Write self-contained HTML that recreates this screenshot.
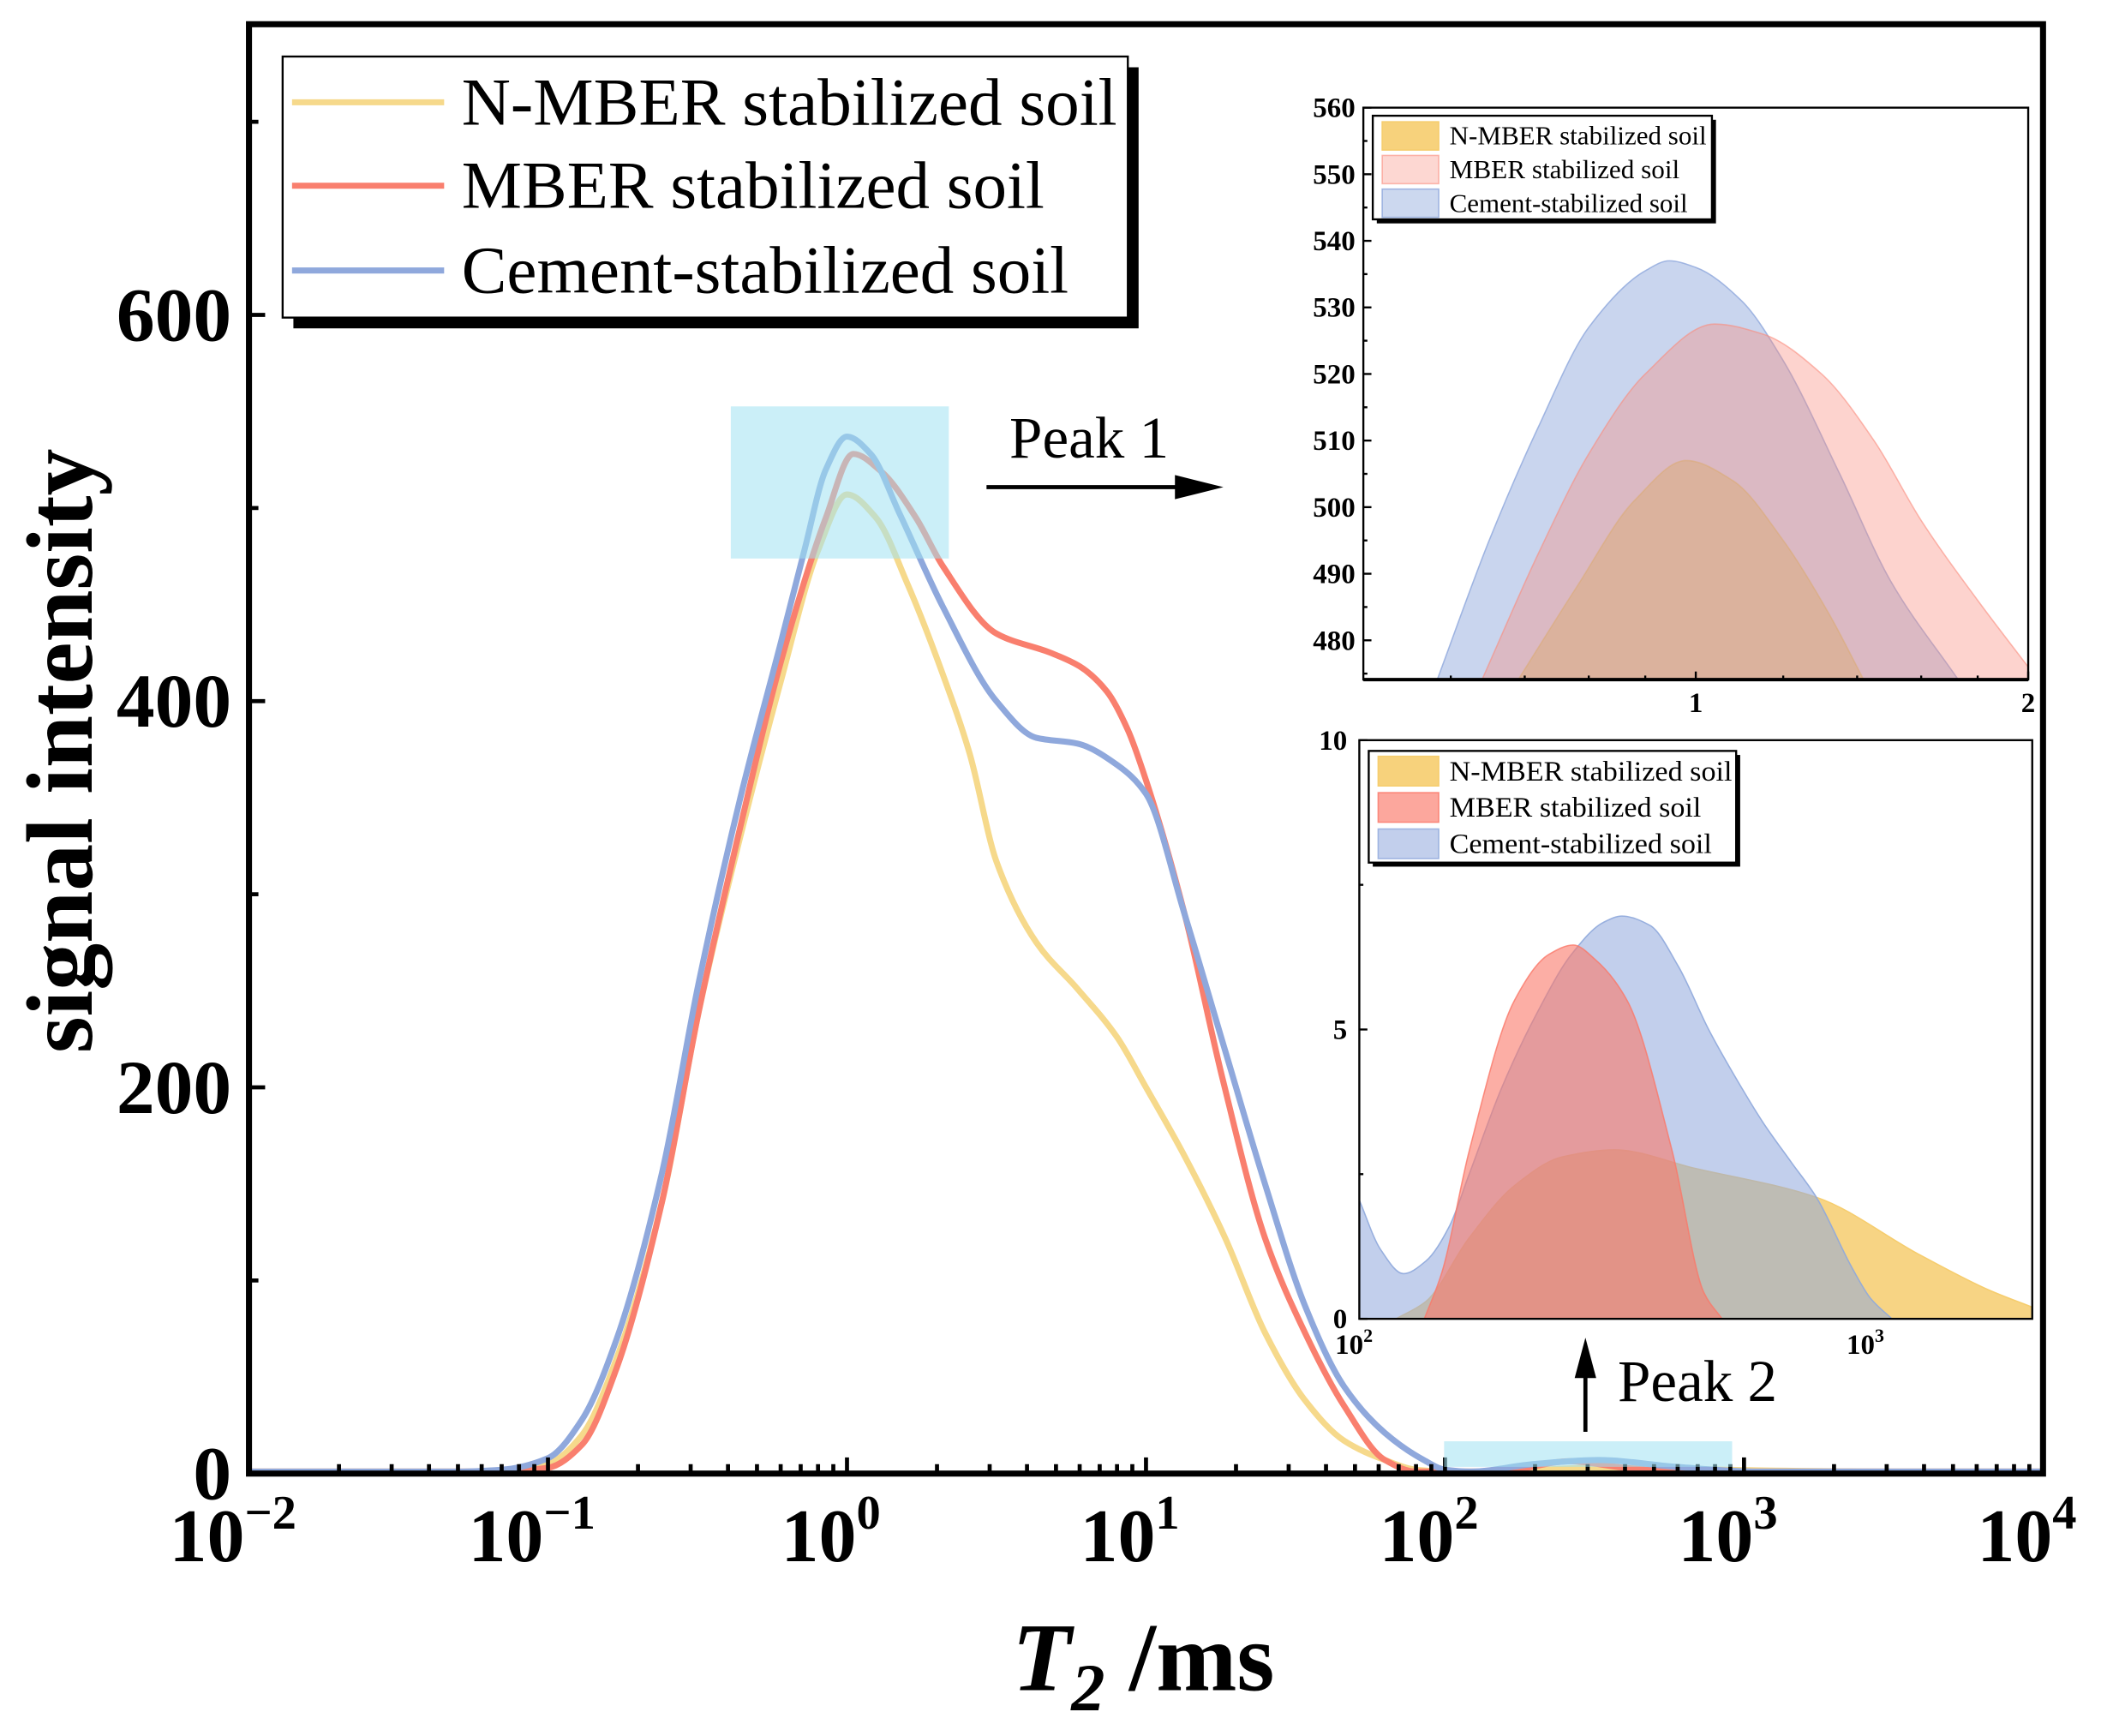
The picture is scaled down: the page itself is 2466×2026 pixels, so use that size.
<!DOCTYPE html>
<html>
<head>
<meta charset="utf-8">
<style>
html,body{margin:0;padding:0;background:#fff;}
svg{display:block;}
text{font-family:"Liberation Serif","DejaVu Serif",serif;}
</style>
</head>
<body>
<svg id="chart" width="2466" height="2026" viewBox="0 0 1570 1290" preserveAspectRatio="none" xmlns="http://www.w3.org/2000/svg">
<defs>
<clipPath id="mainClip"><rect x="185" y="18" width="1333" height="1077"/></clipPath>
<clipPath id="in1Clip"><rect x="1013" y="80" width="494" height="425"/></clipPath>
<clipPath id="in2Clip"><rect x="1010" y="550" width="500" height="430"/></clipPath>
</defs>
<rect x="0" y="0" width="1570" height="1290" fill="#fff"/>
<g id="mainSeries" clip-path="url(#mainClip)"></g>
<g id="mainAxes"></g>
<g id="overlays"></g>
<g id="inset1"></g>
<g id="inset2"></g>
<g id="legends"></g>
</svg>
<script>
// ===== Main chart data =====
const yellowT2 = [0.01,0.05,0.07,0.1,0.13,0.17,0.24,0.32,0.44,0.6,0.8,1.0,1.25,1.6,2.09,2.57,3.16,4.3,5.9,8.0,10,13.5,18.4,25,34,46,63,80,100,150,300,600,1000,3000,10000];
const yellowVals = [0,0,1,5,20,60,140,240,330,410,478,507,495,460,414,373,317,275,251,226,200,164,122,73,38,17,7,2,0,0.5,2.9,2.5,1.8,0.4,0];
const redT2 = [0.01,0.07,0.1,0.13,0.17,0.24,0.32,0.44,0.6,0.85,1.05,1.3,1.7,2.09,3.16,4.8,6.0,7.4,8.7,10,13.5,18,25,34,46,63,80,100,150,262,400,600,10000];
const redVals = [0,0,3,15,55,140,240,335,420,495,528,519,495,470,435,425,418,405,385,359,289,205,122,73,35,7,1,0,0.5,6.4,3,0,0];
const blueT2 = [0.01,0.05,0.07,0.1,0.13,0.17,0.24,0.32,0.44,0.6,0.72,0.85,1.0,1.2,1.5,2.09,3.16,4.3,5.9,8,10,13.5,18.4,25,34,46,63,85,100,122,200,326,600,1100,10000];
const blueVals = [0,0,2,8,28,70,155,255,350,430,478,520,537,528,497,449,400,381,378,367,352,289,219,150,87,45,21,7,2,0.8,5,7,3.4,0,0];
const xTickExp = [-2,-1,0,1,2,3,4];
const yTicks = [0,200,400,600];
const yMinorTicks = [100,300,500,700];
const seriesNames = ["N-MBER stabilized soil","MBER stabilized soil","Cement-stabilized soil"];
// ===== Inset 1 (Peak 1) data =====
const in1YellowT2 = [0.69,0.78,0.88,0.98,1.08,1.2,1.32,1.42];
const in1YellowVals = [474,488,501,507,504,495,484,474];
const in1RedT2 = [0.64,0.72,0.8,0.9,1.04,1.15,1.3,1.45,1.6,1.8,2.0];
const in1RedVals = [474,493,508,520,527.5,526,520,510,498,486,476];
const in1BlueT2 = [0.583,0.65,0.72,0.8,0.9,0.946,1.0,1.1,1.2,1.35,1.5,1.73];
const in1BlueVals = [474,495,512,527,535.5,537,536,531,522,505,489,474];
const in1YTicks = [480,490,500,510,520,530,540,550,560];
const in1XTicks = [1,2];
// ===== Inset 2 (Peak 2) data =====
const in2YellowT2 = [118,135,164,201,250,315,453,783,1250,1700,2070];
const in2YellowVals = [0,0.3,1.4,2.3,2.8,2.92,2.6,2.1,1.1,0.5,0.2];
const in2RedT2 = [134,145,164,201,235,262,290,334,409,472,512];
const in2RedVals = [0,0.8,2.9,5.5,6.3,6.46,6.2,5.5,2.9,0.45,0];
const in2BlueT2 = [100,110,122,135,150,164,190,223,260,300,326,370,420,482,550,615,700,783,922,1000,1100];
const in2BlueVals = [2.05,1.2,0.78,1.0,1.6,2.5,4.0,5.3,6.3,6.85,6.96,6.8,6.1,5.0,4.1,3.4,2.7,2.1,0.86,0.35,0];
const in2YTicks = [0,5,10];
const in2XTickExp = [2,3];

const NS="http://www.w3.org/2000/svg";
function mk(tag, attrs, parent){const e=document.createElementNS(NS,tag);for(const k in attrs)e.setAttribute(k,attrs[k]);if(parent)parent.appendChild(e);return e;}
function smoothPath(pts){
  const n=pts.length;
  const dx=[],dy=[],m=[];
  for(let i=0;i<n-1;i++){dx.push(pts[i+1][0]-pts[i][0]);dy.push(pts[i+1][1]-pts[i][1]);m.push(dy[i]/dx[i]);}
  const t=new Array(n);
  t[0]=m[0];t[n-1]=m[n-2];
  for(let i=1;i<n-1;i++){
    if(m[i-1]*m[i]<=0)t[i]=0;
    else{const w1=2*dx[i]+dx[i-1],w2=dx[i]+2*dx[i-1];t[i]=(w1+w2)/(w1/m[i-1]+w2/m[i]);}
  }
  let d="M"+pts[0][0].toFixed(2)+","+pts[0][1].toFixed(2);
  for(let i=0;i<n-1;i++){
    const h=dx[i]/3;
    d+=" C"+(pts[i][0]+h).toFixed(2)+","+(pts[i][1]+t[i]*h).toFixed(2)+" "+(pts[i+1][0]-h).toFixed(2)+","+(pts[i+1][1]-t[i+1]*h).toFixed(2)+" "+pts[i+1][0].toFixed(2)+","+pts[i+1][1].toFixed(2);
  }
  return d;
}
const mX0=185,mX1=1518,mY0=1095,mY1=18;
const mx=t=>mX0+(Math.log10(t)+2)/6*(mX1-mX0);
const my=v=>mY0-v*(287/200);
const COL_Y="#F6D98B",COL_R="#F97F6E",COL_B="#8FA8DC";

const gS=document.getElementById('mainSeries');
[[yellowT2,yellowVals,COL_Y,'n-mber-line'],[redT2,redVals,COL_R,'mber-line'],[blueT2,blueVals,COL_B,'cement-line']].forEach(s=>{
  const pts=s[0].map((t,i)=>[mx(t),Math.min(mY0-1.5,my(s[1][i]))]);
  const p=mk('path',{d:smoothPath(pts),fill:'none',stroke:s[2],'stroke-width':4.5,'stroke-linejoin':'round'},gS);
  
  
});

const gA=document.getElementById('mainAxes');
const frame=mk('rect',{x:mX0,y:mY1,width:mX1-mX0,height:mY0-mY1,fill:'none',stroke:'#000','stroke-width':4.5},gA);


xTickExp.forEach(e=>{
  const x=mx(Math.pow(10,e));
  mk('line',{x1:x,x2:x,y1:mY0,y2:mY0-12,stroke:'#000','stroke-width':3},gA);
  if(e<4){for(let k=2;k<=9;k++){const xm=mx(k*Math.pow(10,e));mk('line',{x1:xm,x2:xm,y1:mY0,y2:mY0-7,stroke:'#000','stroke-width':3},gA);}}
  const t=mk('text',{x:x-12,y:1160,'text-anchor':'middle','font-size':56,'font-weight':'bold'},gA);
  
  
  t.textContent='10';
  const sp=mk('tspan',{dy:-24,'font-size':36},t); sp.textContent=(e<0?'\u2212':'')+Math.abs(e);
});
yTicks.forEach(v=>{
  const y=my(v);
  mk('line',{x1:mX0,x2:mX0+12,y1:y,y2:y,stroke:'#000','stroke-width':3},gA);
  const t=mk('text',{x:172,y:y+19,'text-anchor':'end','font-size':57,'font-weight':'bold'},gA);
  
  
  t.textContent=v;
});
yMinorTicks.forEach(v=>{const y=my(v);mk('line',{x1:mX0,x2:mX0+7,y1:y,y2:y,stroke:'#000','stroke-width':3},gA);});
const yt=mk('text',{x:0,y:0,transform:'translate(68,558) rotate(-90)','text-anchor':'middle','font-size':70,'font-weight':'bold'},gA);


yt.textContent='signal intensity';
const xt=mk('text',{x:752,y:1256,'font-size':72,'font-weight':'bold'},gA);


const t1=mk('tspan',{'font-style':'italic'},xt);t1.textContent='T';
const t2=mk('tspan',{'font-style':'italic','font-size':50,dy:15},xt);t2.textContent='2';
const t3=mk('tspan',{dy:-15},xt);t3.textContent=' /ms';

const gO=document.getElementById('overlays');
const h1=mk('rect',{x:543,y:302,width:162,height:113,fill:'rgba(160,225,242,0.55)'},gO);


const h2=mk('rect',{x:1073,y:1071,width:214,height:19,fill:'rgba(160,225,242,0.55)'},gO);


const pk1=mk('text',{x:750,y:340,'font-size':44},gO);pk1.textContent='Peak 1';


mk('line',{x1:733,x2:880,y1:362,y2:362,stroke:'#000','stroke-width':3},gO);
mk('polygon',{points:'873,353 909,362 873,371',fill:'#000'},gO);
const pk2=mk('text',{x:1202,y:1041,'font-size':44},gO);pk2.textContent='Peak 2';


mk('line',{x1:1178,x2:1178,y1:1064,y2:1020,stroke:'#000','stroke-width':3},gO);
mk('polygon',{points:'1170,1024 1178,994 1186,1024',fill:'#000'},gO);

const g1=document.getElementById('inset1');
const i1x0=1013,i1x1=1507,i1y0=505,i1y1=80;
const i1x=t=>i1x0+(Math.log10(t)-Math.log10(0.5))/(Math.log10(2)-Math.log10(0.5))*(i1x1-i1x0);
const i1y=v=>i1y0-(v-474.1)*((i1y0-i1y1)/(560-474.1));
mk('rect',{x:i1x0,y:i1y1,width:i1x1-i1x0,height:i1y0-i1y1,fill:'#fff'},g1);
const g1c=mk('g',{'clip-path':'url(#in1Clip)'},g1);
[[in1BlueT2,in1BlueVals,'rgba(143,168,220,0.48)','rgba(143,168,220,0.8)','inset1-cement-area'],[in1RedT2,in1RedVals,'rgba(250,140,125,0.38)','rgba(250,140,125,0.6)','inset1-mber-area'],[in1YellowT2,in1YellowVals,'rgba(220,170,110,0.45)','rgba(220,170,110,0.5)','inset1-n-mber-area']].forEach(s=>{
  const pts=s[0].map((t,i)=>[i1x(t),i1y(s[1][i])]);
  const d=smoothPath(pts)+" L"+pts[pts.length-1][0]+","+(i1y0+5)+" L"+pts[0][0]+","+(i1y0+5)+" Z";
  const p=mk('path',{d:d,fill:s[2],stroke:s[3],'stroke-width':1},g1c);
  
  
});
mk('rect',{x:i1x0,y:i1y1,width:i1x1-i1x0,height:i1y0-i1y1,fill:'none',stroke:'#000','stroke-width':1.5},g1);
mk('line',{x1:i1x0,x2:i1x1,y1:i1y0,y2:i1y0,stroke:'#000','stroke-width':2.5},g1);
in1YTicks.forEach(v=>{
  const y=i1y(v);
  mk('line',{x1:i1x0,x2:i1x0+6,y1:y,y2:y,stroke:'#000','stroke-width':1.5},g1);
  mk('line',{x1:i1x0,x2:i1x0+3,y1:i1y(v-5),y2:i1y(v-5),stroke:'#000','stroke-width':1.5},g1);
  const t=mk('text',{x:i1x0-6,y:y+7,'text-anchor':'end','font-size':21,'font-weight':'bold'},g1);
  
  
  t.textContent=v;
});
in1XTicks.forEach(v=>{
  const x=i1x(v);
  mk('line',{x1:x,x2:x,y1:i1y0,y2:i1y0-6,stroke:'#000','stroke-width':1.5},g1);
  const t=mk('text',{x:x,y:i1y0+24,'text-anchor':'middle','font-size':21,'font-weight':'bold'},g1);
  
  
  t.textContent=v;
});
[0.6,0.7,0.8,0.9,1.2,1.4,1.6,1.8].forEach(v=>{const x=i1x(v);mk('line',{x1:x,x2:x,y1:i1y0,y2:i1y0-3,stroke:'#000','stroke-width':1.5},g1);});

const g2=document.getElementById('inset2');
const i2x0=1010,i2x1=1510,i2y0=980,i2y1=550;
const i2x=t=>i2x0+(Math.log10(t)-2)*380;
const i2y=v=>i2y0-v*43;
mk('rect',{x:i2x0,y:i2y1,width:i2x1-i2x0,height:i2y0-i2y1,fill:'#fff'},g2);
const g2c=mk('g',{'clip-path':'url(#in2Clip)'},g2);
[[in2YellowT2,in2YellowVals,'rgba(246,205,110,0.85)','rgba(246,205,110,1)','inset2-n-mber-area'],[in2BlueT2,in2BlueVals,'rgba(143,168,220,0.55)','rgba(143,168,220,0.9)','inset2-cement-area'],[in2RedT2,in2RedVals,'rgba(250,120,105,0.6)','rgba(250,120,105,0.8)','inset2-mber-area']].forEach(s=>{
  const pts=s[0].map((t,i)=>[i2x(t),Math.min(i2y0,i2y(s[1][i]))]);
  const d=smoothPath(pts)+" L"+pts[pts.length-1][0]+","+(i2y0+5)+" L"+pts[0][0]+","+(i2y0+5)+" Z";
  const p=mk('path',{d:d,fill:s[2],stroke:s[3],'stroke-width':1},g2c);
  
  
});
mk('rect',{x:i2x0,y:i2y1,width:i2x1-i2x0,height:i2y0-i2y1,fill:'none',stroke:'#000','stroke-width':1.5},g2);
in2YTicks.forEach(v=>{
  const y=i2y(v);
  mk('line',{x1:i2x0,x2:i2x0+6,y1:y,y2:y,stroke:'#000','stroke-width':1.5},g2);
  const t=mk('text',{x:i2x0-9,y:y+7,'text-anchor':'end','font-size':21,'font-weight':'bold'},g2);
  
  
  t.textContent=v;
});
[2.5,7.5].forEach(v=>{const y=i2y(v);mk('line',{x1:i2x0,x2:i2x0+3,y1:y,y2:y,stroke:'#000','stroke-width':1.5},g2);});
in2XTickExp.forEach(e=>{
  const x=i2x(Math.pow(10,e));
  const t=mk('text',{x:x-4,y:i2y0+26,'text-anchor':'middle','font-size':21,'font-weight':'bold'},g2);
  
  
  t.textContent='10';
  const sp=mk('tspan',{dy:-9,'font-size':14},t);sp.textContent=e;
});

const gL=document.getElementById('legends');
function legend(x,y,w,h,rows,sw,sh,fs,tx,items,kind,shadow,nameBase,widths){
  const g=mk('g',{},gL);
  
  
  mk('rect',{x:x+shadow,y:y+shadow,width:w,height:h,fill:'#000'},g);
  mk('rect',{x:x,y:y,width:w,height:h,fill:'#fff',stroke:'#000','stroke-width':1.5},g);
  items.forEach((it,i)=>{
    const cy=rows[i];
    const e=mk('g',{},g);
    
    
    if(kind==='line') mk('line',{x1:x+7,x2:x+7+sw,y1:cy,y2:cy,stroke:it[1],'stroke-width':4.5},e);
    else mk('rect',{x:x+7,y:cy-sh/2,width:sw,height:sh,fill:it[1],stroke:it[2],'stroke-width':1},e);
    const t=mk('text',{x:x+tx,y:cy+fs*0.33,'font-size':fs,textLength:widths[i],lengthAdjust:'spacingAndGlyphs'},e);t.textContent=it[0];
  });
}
legend(210,42,628,194,[76,138,201],113,0,50,133,[[seriesNames[0],COL_Y],[seriesNames[1],COL_R],[seriesNames[2],COL_B]],'line',8,'main-legend',[487,433,451]);
legend(1020,86,252,77,[101,126,151],42,21,19.5,57,[[seriesNames[0],'rgba(246,205,110,0.9)','rgba(246,205,110,1)'],[seriesNames[1],'rgba(250,140,125,0.35)','rgba(250,140,125,0.6)'],[seriesNames[2],'rgba(143,168,220,0.45)','rgba(143,168,220,0.8)']],'rect',3,'inset1-legend',[191,171,177]);
legend(1017,558,273,83,[573,600,627],45,22,21,60,[[seriesNames[0],'rgba(246,205,110,0.9)','rgba(246,205,110,1)'],[seriesNames[1],'rgba(250,120,105,0.65)','rgba(250,120,105,0.8)'],[seriesNames[2],'rgba(143,168,220,0.55)','rgba(143,168,220,0.8)']],'rect',3,'inset2-legend',[210,187,195]);
</script>
</body>
</html>
